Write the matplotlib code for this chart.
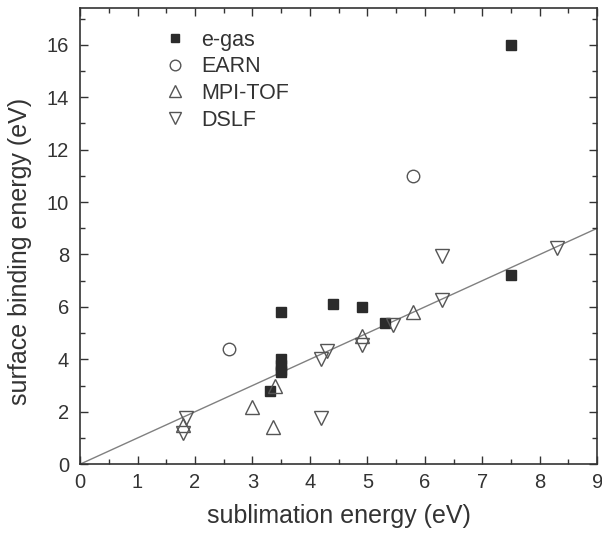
import matplotlib.pyplot as plt
from matplotlib.ticker import MultipleLocator

plt.rcParams['font.family'] = ['Liberation Sans', 'DejaVu Sans']

# e-gas
egas_x = [7.5, 3.5, 4.4, 4.9, 5.3, 3.3, 3.5, 3.5, 3.5, 3.5, 7.5]
egas_y = [7.2, 5.8, 6.1, 6.0, 5.4, 2.8, 4.0, 3.8, 3.6, 3.5, 16.0]
# EARN
earn_x = [5.8, 2.6]
earn_y = [11.0, 4.4]
# MPI-TOF
mpi_x = [1.8, 3.0, 3.35, 3.4, 4.9, 5.8]
mpi_y = [1.5, 2.2, 1.4, 3.0, 4.9, 5.8]
# DSLF
dslf_x = [1.8, 1.85, 4.2, 4.2, 4.3, 4.9, 5.45, 6.3, 6.3, 8.3]
dslf_y = [1.2, 1.75, 1.75, 4.0, 4.3, 4.55, 5.3, 7.95, 6.25, 8.25]

fig = plt.figure(figsize=(6.02, 5.41), dpi=100)
ax = fig.add_axes([0.133, 0.142, 0.859, 0.843])

ax.plot([0, 9], [0, 9], color='#808080', lw=1, zorder=1)

ax.plot(egas_x, egas_y, 's', ms=7.5, color='#2b2b2b', mec='#2b2b2b',
        ls='none', label='e-gas', zorder=3)
ax.plot(earn_x, earn_y, 'o', ms=9, mfc='white', mec='#555555', mew=1,
        ls='none', label='EARN', zorder=3)
ax.plot(mpi_x, mpi_y, '^', ms=10, mfc='none', mec='#555555', mew=1,
        ls='none', label='MPI-TOF', zorder=3)
ax.plot(dslf_x, dslf_y, 'v', ms=10, mfc='none', mec='#555555', mew=1,
        ls='none', label='DSLF', zorder=3)

ax.set_xlim(0, 9)
ax.set_ylim(0, 17.4)
ax.xaxis.set_major_locator(MultipleLocator(1))
ax.xaxis.set_minor_locator(MultipleLocator(0.5))
ax.yaxis.set_major_locator(MultipleLocator(2))
ax.yaxis.set_minor_locator(MultipleLocator(1))
ax.tick_params(which='both', direction='in', top=True, right=True,
               color='#333333', labelsize=14.5, labelcolor='#333333')
ax.tick_params(which='major', length=6, width=1)
ax.tick_params(which='minor', length=3.5, width=1)
ax.tick_params(axis='x', pad=6)
ax.tick_params(axis='y', pad=8)
for s in ax.spines.values():
    s.set_color('#333333')
    s.set_linewidth(1.2)

ax.set_xlabel('sublimation energy (eV)', fontsize=18, color='#333333', labelpad=9)
ax.set_ylabel('surface binding energy (eV)', fontsize=18, color='#333333')
ax.yaxis.set_label_coords(-0.093, 0.467)

ax.legend(loc='upper left', bbox_to_anchor=(0.105, 0.995), frameon=False,
          fontsize=15.5, labelcolor='#333333', handletextpad=0.2,
          labelspacing=0.26, markerscale=0.85)

fig.savefig('out.png', dpi=100)
